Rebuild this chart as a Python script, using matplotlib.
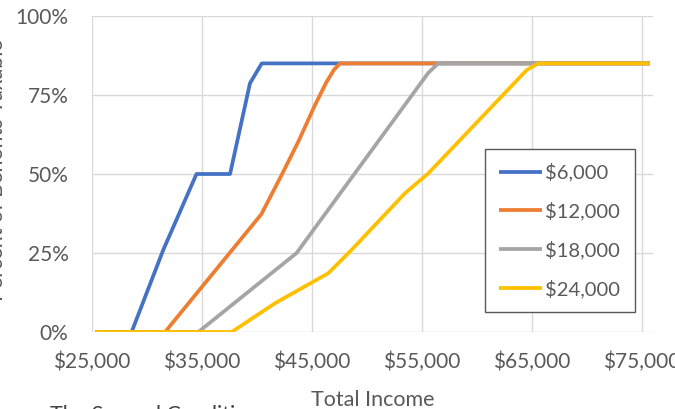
import matplotlib
matplotlib.use('Agg')
import matplotlib.pyplot as plt
from matplotlib.ticker import FuncFormatter

plt.rcParams['font.family'] = ['Lato', 'DejaVu Sans']

# values (total income, percent of benefits taxable)
x_6k = [25300, 28600, 31480, 34500, 37550, 39360, 40430, 75700]
y_6k = [0, 0, 26, 50, 50, 78.7, 85, 85]

x_12k = [25300, 31640, 40400, 42240, 43750, 45270, 46300, 47000, 47550, 75700]
y_12k = [0, 0, 37.3, 49.7, 60.2, 71.8, 79, 83, 85, 85]

x_18k = [25300, 34670, 43600, 55570, 56480, 75700]
y_18k = [0, 0, 25, 82, 85, 85]

x_24k = [25300, 37700, 41640, 46480, 48600, 53450, 55570, 64520, 65580, 75700]
y_24k = [0, 0, 9.1, 18.6, 26, 43.9, 50.2, 82.9, 85, 85]

labels = ['$6,000', '$12,000', '$18,000', '$24,000']
colors = ['#4472C4', '#ED7D31', '#A5A5A5', '#FFC000']

x_ticks = [25000, 35000, 45000, 55000, 65000, 75000]
y_ticks = [0, 25, 50, 75, 100]

fig = plt.figure(figsize=(6.75, 4.09), dpi=100)
ax = fig.add_axes([92/675, 1-332/409, 561/675, 316/409])

series = [(x_6k, y_6k), (x_12k, y_12k), (x_18k, y_18k), (x_24k, y_24k)]
for (xs, ys), lab, c in zip(series, labels, colors):
    ax.plot(xs, ys, color=c, lw=2.7, label=lab, solid_joinstyle='round', solid_capstyle='butt')

ax.set_xlim(25000, 76000)
ax.set_ylim(0, 100)
ax.set_xticks(x_ticks)
ax.set_yticks(y_ticks)
ax.xaxis.set_major_formatter(FuncFormatter(lambda v, p: '${:,.0f}'.format(v)))
ax.yaxis.set_major_formatter(FuncFormatter(lambda v, p: '{:.0f}%'.format(v)))
ax.tick_params(axis='both', length=0, labelsize=15, labelcolor='#595959')
ax.tick_params(axis='y', pad=17)
ax.tick_params(axis='x', pad=14)
ax.grid(True, color='#D9D9D9', lw=1)
ax.set_axisbelow(True)
for s in ax.spines.values():
    s.set_visible(False)

ax.set_xlabel('Total Income', fontsize=15.5, color='#595959', labelpad=13)
fig.text(7/675, 1-170/409, 'Percent of Benefits Taxable', rotation=90, ha='right', va='center',
         fontsize=15.5, color='#595959')
fig.text(50/675, 1-405/409, 'The Second Condition', ha='left', va='top', fontsize=15.5, color='#404040')

leg = ax.legend(loc='upper left', bbox_to_anchor=((485-92)/561, (332-149)/316), borderaxespad=0,
                fontsize=14.5, handlelength=2.15, handletextpad=0.15, labelspacing=1.0,
                borderpad=0.7, fancybox=False, framealpha=1, edgecolor='#595959', labelcolor='#595959')
leg.get_frame().set_linewidth(1)

fig.savefig('out.png', dpi=100)
